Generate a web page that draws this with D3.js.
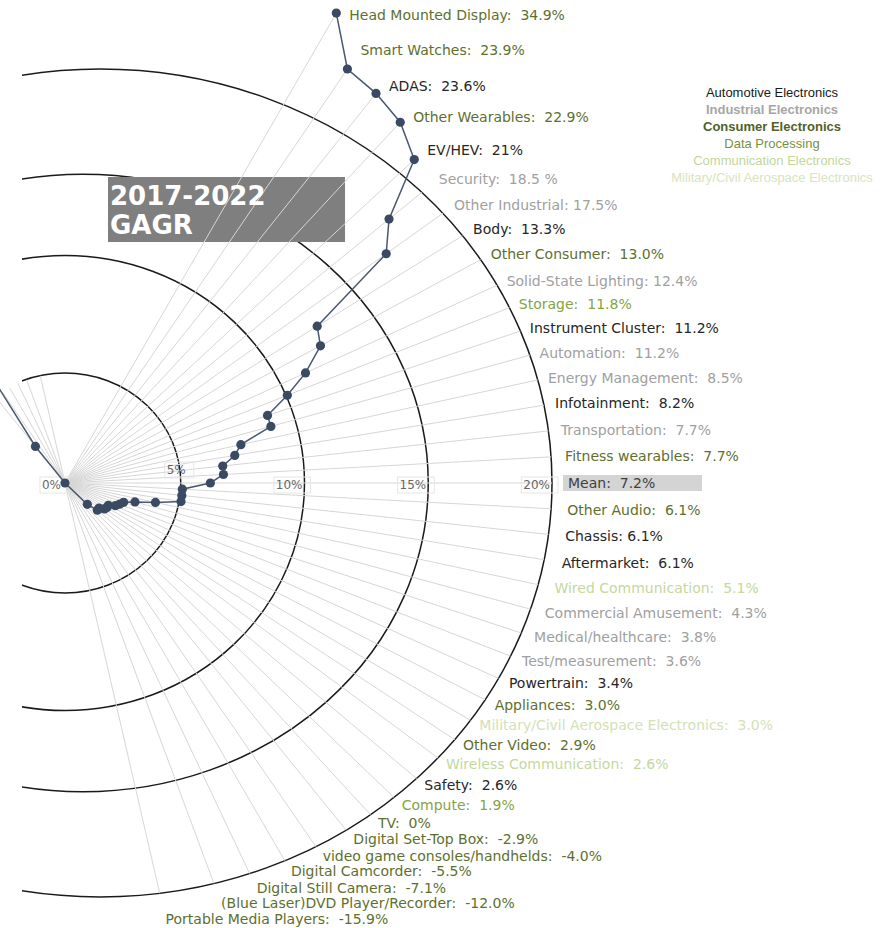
<!DOCTYPE html>
<html>
<head>
<meta charset="utf-8">
<script src="https://cdn.jsdelivr.net/npm/d3@7"></script>
<style>
  body { margin: 0; background: #fff; }
  text { font-family: "DejaVu Sans", Verdana, sans-serif; }
</style>
</head>
<body>
<svg width="884" height="928"></svg>
<script>
// categories, in drawing order (top of the fan to the bottom)
const names = [
  'Head Mounted Display', 'Smart Watches', 'ADAS', 'Other Wearables',
  'EV/HEV', 'Security', 'Other Industrial', 'Body',
  'Other Consumer', 'Solid-State Lighting', 'Storage', 'Instrument Cluster',
  'Automation', 'Energy Management', 'Infotainment', 'Transportation',
  'Fitness wearables', 'Mean', 'Other Audio', 'Chassis',
  'Aftermarket', 'Wired Communication', 'Commercial Amusement', 'Medical/healthcare',
  'Test/measurement', 'Powertrain', 'Appliances', 'Military/Civil Aerospace Electronics',
  'Other Video', 'Wireless Communication', 'Safety', 'Compute',
  'TV', 'Digital Set-Top Box', 'video game consoles/handhelds', 'Digital Camcorder',
  'Digital Still Camera', '(Blue Laser)DVD Player/Recorder', 'Portable Media Players'
];
const growth = [
  34.9, 23.9, 23.6, 22.9, 21, 18.5, 17.5, 13.3, 13.0, 12.4, 11.8, 11.2,
  11.2, 8.5, 8.2, 7.7, 7.7, 7.2, 6.1, 6.1, 6.1, 5.1, 4.3, 3.8,
  3.6, 3.4, 3.0, 3.0, 2.9, 2.6, 2.6, 1.9, 0, -2.9, -4.0, -5.5,
  -7.1, -12.0, -15.9
];
// value text as printed next to each category
const valueText = [
  '34.9%', '23.9%', '23.6%', '22.9%', '21%', '18.5 %', '17.5%', '13.3%', '13.0%', '12.4%', '11.8%', '11.2%',
  '11.2%', '8.5%', '8.2%', '7.7%', '7.7%', '7.2%', '6.1%', '6.1%', '6.1%', '5.1%', '4.3%', '3.8%',
  '3.6%', '3.4%', '3.0%', '3.0%', '2.9%', '2.6%', '2.6%', '1.9%', '0%', '-2.9%', '-4.0%', '-5.5%',
  '-7.1%', '-12.0%', '-15.9%'
];
const group = [
  'con', 'con', 'auto', 'con', 'auto', 'ind', 'ind', 'auto', 'con', 'ind', 'data', 'auto',
  'ind', 'ind', 'auto', 'ind', 'con', 'mean', 'con', 'auto', 'auto', 'comm', 'ind', 'ind',
  'ind', 'auto', 'con', 'mil', 'con', 'comm', 'auto', 'data', 'con', 'con', 'con', 'con',
  'con', 'con', 'con'
];
const tightColon = ['Other Industrial', 'Solid-State Lighting', 'Chassis'];
const legendItems = ['Automotive Electronics', 'Industrial Electronics', 'Consumer Electronics',
  'Data Processing', 'Communication Electronics', 'Military/Civil Aerospace Electronics'];
const legendKeys = ['auto', 'ind', 'con', 'data', 'comm', 'mil'];
const ringTicks = [0, 5, 10, 15, 20];

const color = {
  auto: '#262626', ind: '#a0a0a0', con: '#5e6f2e', data: '#86a342',
  comm: '#c4d89c', mil: '#d3e1b5', mean: '#404040'
};
const legendColor = {
  auto: '#1a1a1a', ind: '#a6a6a6', con: '#4f6228', data: '#77933c',
  comm: '#c3d69b', mil: '#d7e4bd'
};

const svg = d3.select('svg');
const cx = 65, cy = 483;
const rad = Math.PI / 180;

// ring crossing on the horizontal axis
const ringX = d3.scaleLinear().domain([0, 20]).range([57, 552]);
// value -> distance of the dot from the hub
const rScale = d3.scaleLinear()
  .domain([-16, -2.9, 0, 4, 7, 8.5, 11, 13, 21, 24, 35])
  .range([-1000, -47, 0, 65, 140, 180, 205, 290, 476, 502, 543]);
// category index -> angle (deg, clockwise from up)
const angle = d3.scaleLinear()
  .domain([0, 4, 9, 17, 29, 33, 35, 37, 38])
  .range([30, 47.2, 65.4, 90, 126.4, 141, 149.8, 159.6, 167]);
// angle -> distance of the label start
const labelR = d3.scaleLinear()
  .domain([30, 38.6, 47.2, 53, 90, 100, 126.6, 150, 167])
  .range([540, 508, 490.5, 477, 503, 503, 473, 449, 447]);

const polar = (a, r) => [cx + r * Math.sin(a * rad), cy - r * Math.cos(a * rad)];

function ring(v) {
  const shift = v > 10 ? (v - 10) * 3.5 : 0;
  const aspect = v > 10 ? 0.85 : 0.95;
  const ecx = cx + shift;
  return { cx: ecx, rx: ringX(v) - ecx, ry: aspect * (ringX(v) - cx) };
}

// distance from hub to outer ring along an angle
function outerHit(a) {
  const e = ring(20);
  const s = Math.sin(a * rad), c = Math.cos(a * rad);
  const d = cx - e.cx;
  const A = s * s / (e.rx * e.rx) + c * c / (e.ry * e.ry);
  const B = 2 * d * s / (e.rx * e.rx);
  const C = d * d / (e.rx * e.rx) - 1;
  return (-B + Math.sqrt(B * B - 4 * A * C)) / (2 * A);
}

svg.append('defs').append('clipPath').attr('id', 'ringClip')
  .append('rect').attr('x', 22).attr('y', 0).attr('width', 862).attr('height', 928);

// rings
svg.append('g').attr('clip-path', 'url(#ringClip)')
  .selectAll('ellipse').data(ringTicks.filter(d => d > 0)).join('ellipse')
  .attr('cx', d => ring(d).cx).attr('cy', cy)
  .attr('rx', d => ring(d).rx).attr('ry', d => ring(d).ry)
  .attr('fill', 'none').attr('stroke', '#1a1a1a').attr('stroke-width', 1.5);

// title box
svg.append('rect').attr('x', 108).attr('y', 177).attr('width', 237).attr('height', 65).attr('fill', '#7f7f7f');

const pts = growth.map((v, i) => polar(v < 0 ? angle(i) + 180 : angle(i), Math.abs(rScale(v))));

// rays
const rays = svg.append('g').attr('stroke', '#d6d6d6').attr('stroke-width', 1);
growth.forEach((v, i) => {
  const a = angle(i);
  const end = polar(a, Math.max(outerHit(a), rScale(v)));
  rays.append('line').attr('x1', cx).attr('y1', cy).attr('x2', end[0]).attr('y2', end[1]);
  if (v < 0) {
    const back = polar(a + 180, 110);
    rays.append('line').attr('x1', cx).attr('y1', cy).attr('x2', back[0]).attr('y2', back[1]);
  }
});

svg.append('text').attr('x', 110).attr('y', 205).text('2017-2022')
  .attr('fill', '#fff').attr('font-size', 26).attr('font-weight', 'bold');
svg.append('text').attr('x', 110).attr('y', 234).text('GAGR')
  .attr('fill', '#fff').attr('font-size', 26).attr('font-weight', 'bold');

// tick labels on the horizontal axis
const ticks = svg.append('g');
ringTicks.forEach(v => {
  const t = ticks.append('text')
    .attr('x', ringX(v) + (v === 0 ? 4 : v === 5 ? 5 : -2))
    .attr('y', v === 5 ? 474 : 489)
    .attr('text-anchor', 'end').attr('font-size', 12).attr('fill', '#666')
    .text(v + '%');
  const b = t.node().getBBox();
  ticks.insert('rect', 'text').attr('x', b.x - 2).attr('y', b.y - 1)
    .attr('width', b.width + 10).attr('height', b.height + 2)
    .attr('fill', 'none').attr('stroke', '#e6e6e6').attr('stroke-width', 1);
});

// growth line and dots
svg.append('path').attr('d', d3.line()(pts))
  .attr('fill', 'none').attr('stroke', '#4a5870').attr('stroke-width', 1.5);
svg.append('g').selectAll('circle').data(pts).join('circle')
  .attr('cx', d => d[0]).attr('cy', d => d[1]).attr('r', 4.6)
  .attr('fill', '#3a4a63');

// category labels (kept clear of dots that lie past the outer ring)
const lab = svg.append('g');
names.forEach((name, i) => {
  const a = angle(i);
  const p = polar(a, labelR(a));
  const x = growth[i] > 20 ? Math.max(p[0], pts[i][0] + 13) : p[0];
  const sep = tightColon.includes(name) ? ': ' : ':\u00a0\u00a0';
  const t = lab.append('text')
    .attr('x', x).attr('y', p[1])
    .attr('dominant-baseline', 'central')
    .attr('font-size', 14).attr('fill', color[group[i]])
    .text(name + sep + valueText[i]);
  if (group[i] === 'mean') {
    const b = t.node().getBBox();
    lab.insert('rect', 'text').attr('x', b.x - 5).attr('y', b.y)
      .attr('width', 139).attr('height', b.height).attr('fill', '#d4d4d4');
  }
});

// legend
svg.append('g').selectAll('text').data(legendItems).join('text')
  .attr('x', 772).attr('y', (d, i) => 97 + i * 17)
  .attr('text-anchor', 'middle')
  .style('font-family', '"Liberation Sans", Arial, sans-serif')
  .attr('font-size', 13)
  .attr('font-weight', (d, i) => (i === 1 || i === 2) ? 'bold' : 'normal')
  .attr('fill', (d, i) => legendColor[legendKeys[i]])
  .text(d => d);
</script>
</body>
</html>
